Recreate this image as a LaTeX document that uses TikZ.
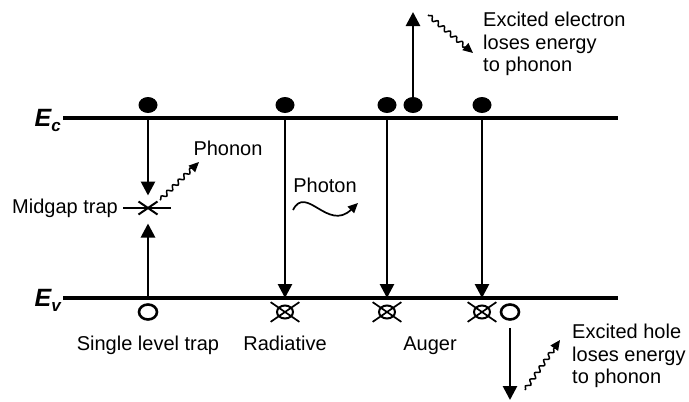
\documentclass[tikz,border=0pt]{standalone}
\usepackage{fontspec}
\setmainfont{Liberation Sans}
\usetikzlibrary{positioning,arrows.meta,shapes.geometric,shapes.misc,decorations.pathmorphing}
\newcommand{\bandarrowstyle}{-{Triangle[length=14pt,width=14pt]}}
\newcommand{\wigglearrowstyle}{-{Triangle[length=10pt,width=9pt]}}

\begin{document}
\begin{tikzpicture}[
    x=1pt, y=-1pt,
    font=\fontsize{20}{22.5}\selectfont,
    level/.style={line width=3.2pt},
    trans/.style={\bandarrowstyle, line width=2.7pt},
    wiggle/.style={\wigglearrowstyle, line width=1.5pt, decorate,
      decoration={snake, amplitude=2pt, segment length=8pt, pre length=1pt, post length=8pt}},
    wave/.style={\wigglearrowstyle, line width=1.7pt},
    electron/.style={ellipse, fill, minimum width=19pt, minimum height=16pt, inner sep=0pt},
    hole/.style={ellipse, draw, line width=2.6pt, minimum width=18pt, minimum height=15pt, inner sep=0pt},
    holex/.style={cross out, draw, line width=1.7pt, minimum width=27pt, minimum height=18pt, inner sep=0pt},
    trapx/.style={cross out, draw, line width=2pt, minimum width=17pt, minimum height=11pt, inner sep=0pt},
    lbl/.style={inner sep=2pt},
    bandlbl/.style={font=\fontsize{25}{25}\selectfont\bfseries\itshape, inner sep=0pt, anchor=base east}
]
  \useasboundingbox (0,0) rectangle (689,402);
  \def\ec{118}
  \def\ev{298}

  \coordinate (ec-l) at (63,\ec);
  \coordinate (ec-r) at (618,\ec);
  \coordinate (ev-l) at (63,\ev);
  \coordinate (ev-r) at (618,\ev);
  \draw[level] (ec-l) -- (ec-r);
  \draw[level] (ev-l) -- (ev-r);
  \node[bandlbl] (lbl-ec) at (61,126) {E\raisebox{-5pt}{\fontsize{17}{17}\selectfont c}};
  \node[bandlbl] (lbl-ev) at (61,306) {E\raisebox{-5pt}{\fontsize{17}{17}\selectfont v}};

  \foreach \c/\x in {1/148,2/285,3/387,4/413,5/482} {
    \node[electron] (elec-\c) at (\x,105) {};
  }
  \node[hole] (hole-1) at (148,312) {};
  \foreach \c/\x in {2/285,3/387,4/482} {
    \node[holex] (xcross-\c) at (\x,312) {};
    \node[hole, line width=2pt, minimum width=16pt, minimum height=13pt] (xhole-\c) at (\x,312) {};
  }
  \node[hole] (hole-5) at (510,312) {};

  % single level trap
  \node[trapx] (trap) at (148,208) {};
  \coordinate (trap-l) at (123,208);
  \coordinate (trap-r) at (171,208);
  \draw[line width=2pt] (trap-l) -- (trap-r);
  \node[inner sep=0pt, left=5pt of trap-l] (lbl-trap) {Midgap trap};
  \draw[trans, shorten >=6pt] (elec-1 |- ec-l) -- (trap.north);
  \draw[trans, shorten >=9pt] (hole-1 |- ev-l) -- (trap.south);
  \node[lbl] (lbl-phn) at (228,148) {Phonon};
  \coordinate (phn-s) at (160,200);
  \coordinate (phn-e) at (199,162);
  \draw[wiggle] (phn-s) -- (phn-e);

  % radiative and auger
  \foreach \c in {2,3,5} {
    \draw[trans] (elec-\c |- ec-l) -- (elec-\c |- ev-l);
  }
  \node[lbl] (lbl-pht) at (325,185) {Photon};
  \coordinate (pht-s) at (293,210);
  \coordinate (pht-e) at (358,203);
  \draw[wave] (pht-s) .. controls (306,184) and (328,232) .. (pht-e);

  \coordinate (esc-e) at (413,12);
  \draw[trans] (elec-4.north) -- (esc-e);
  \coordinate (escw-s) at (428,15);
  \coordinate (escw-e) at (473,53);
  \draw[wiggle] (escw-s) -- (escw-e);
  \node[lbl, anchor=north west, align=left] (lbl-esc) at (481,10)
    {Excited electron\\ loses energy\\ to phonon};

  \coordinate (hsc-e) at (510,400);
  \draw[trans, shorten <=7pt] (hole-5.south) -- (hsc-e);
  \coordinate (hscw-s) at (525,390);
  \coordinate (hscw-e) at (560,340);
  \draw[wiggle] (hscw-s) -- (hscw-e);
  \node[lbl, anchor=north west, align=left] (lbl-hsc) at (570,322)
    {Excited hole\\ loses energy\\ to phonon};

  \node[lbl, anchor=base] (lbl-slt) at (148,350) {Single level trap};
  \node[lbl, anchor=base] (lbl-rad) at (285,350) {Radiative};
  \node[lbl, anchor=base] (lbl-aug) at (430,350) {Auger};
\end{tikzpicture}
\end{document}
